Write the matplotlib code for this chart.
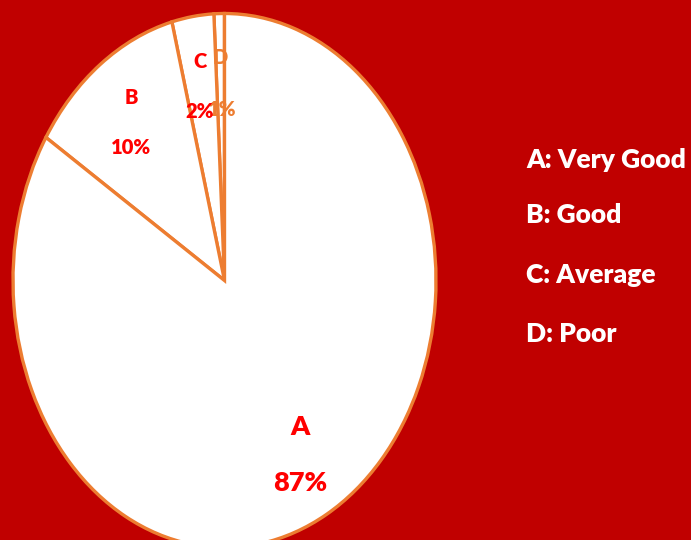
import matplotlib.pyplot as plt

# wedge shares, counterclockwise from the top
categories = ["D", "C", "B", "A"]
shares = [0.8, 3.2, 12, 84]
pct_labels = ["1%", "2%", "10%", "87%"]
legend_items = ["A: Very Good", "B: Good", "C: Average", "D: Poor"]

bg = "#C00000"
edge = "#ED7D31"
red = "#FF0000"

plt.rcParams["font.family"] = ["Lato", "DejaVu Sans"]

fig = plt.figure(figsize=(6.91, 5.40), dpi=100)
fig.patch.set_facecolor(bg)

W, H = 691, 540
cx, cy, rx, ry = 224.5, 280.5, 211.5, 267
ax = fig.add_axes([(cx - rx) / W, (H - cy - ry) / H, 2 * rx / W, 2 * ry / H])
ax.pie(shares, startangle=90, counterclock=True, radius=1,
       colors=["white"] * 4,
       wedgeprops=dict(edgecolor=edge, linewidth=2.4))
ax.set_aspect("auto")
ax.set_xlim(-1, 1)
ax.set_ylim(-1, 1)
ax.axis("off")


def to_data(px, py):
    return (px - cx) / rx, (cy - py) / ry


# label positions in pixels: (category x, y), (percent x, y), size, colour
spots = {
    "A": ((300, 427), (300, 483), 19.5, red),
    "B": ((131, 97), (131, 147), 14.5, red),
    "C": ((200, 61), (200, 111), 14.5, red),
    "D": ((220, 58), (222, 110), 14.5, edge),
}
for cat, pct in zip(categories, pct_labels):
    (lx, ly), (qx, qy), fs, col = spots[cat]
    ax.text(*to_data(lx, ly), cat, color=col, fontsize=fs, fontweight="heavy",
            ha="center", va="center")
    ax.text(*to_data(qx, qy), pct, color=col, fontsize=fs, fontweight="heavy",
            ha="center", va="center")

legend_y = [160, 215, 275, 334]
for txt, y in zip(legend_items, legend_y):
    fig.text(526 / W, 1 - y / H, txt, color="white", fontsize=19,
             fontweight="heavy", ha="left", va="center")

fig.savefig("out.png", dpi=100, facecolor=bg)
